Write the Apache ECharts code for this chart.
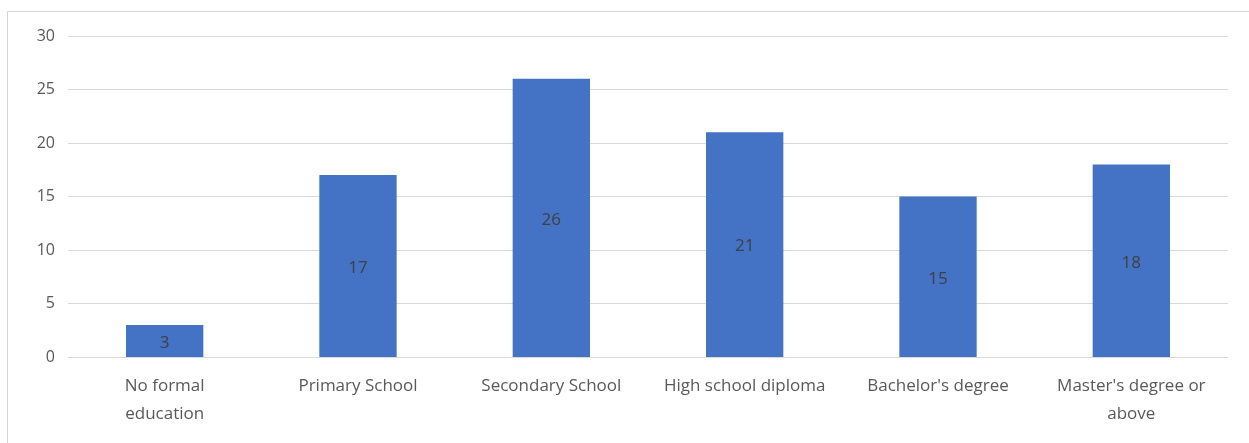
<!DOCTYPE html>
<html>
<head>
<meta charset="utf-8">
<script src="https://cdn.jsdelivr.net/npm/echarts@6/dist/echarts.min.js"></script>
<style>
html,body{margin:0;padding:0;background:#fff;}
#frame{position:absolute;left:7px;top:11px;width:1300px;height:500px;border:1px solid #d4d4d4;box-sizing:border-box;}
#chart{position:absolute;left:0;top:0;width:1249px;height:443px;}
</style>
</head>
<body>
<div id="frame"></div>
<div id="chart"></div>
<script>
const categories = ["No formal\neducation", "Primary School", "Secondary School", "High school diploma", "Bachelor's degree", "Master's degree or\nabove"];
const values = [3, 17, 26, 21, 15, 18];
const yTicks = { min: 0, max: 30, interval: 5 };

const chart = echarts.init(document.getElementById('chart'), null, { renderer: 'canvas' });
const font = "'Open Sans', 'Noto Sans', sans-serif";
chart.setOption({
  animation: false,
  grid: { left: 68, right: 21, top: 36, bottom: 86 },
  xAxis: {
    type: 'category',
    data: categories,
    axisLine: { show: true, lineStyle: { color: '#d9d9d9', width: 1 } },
    axisTick: { show: false },
    axisLabel: { color: '#595959', fontSize: 17, fontFamily: font, margin: 15, lineHeight: 28, interval: 0 }
  },
  yAxis: {
    type: 'value',
    min: yTicks.min, max: yTicks.max, interval: yTicks.interval,
    axisLine: { show: false },
    axisTick: { show: false },
    splitLine: { lineStyle: { color: '#d9d9d9', width: 1 } },
    axisLabel: { color: '#595959', fontSize: 16, fontFamily: font, margin: 13 }
  },
  series: [{
    type: 'bar',
    data: values,
    barWidth: '40%',
    itemStyle: { color: '#4472C4' },
    label: { show: true, position: 'inside', offset: [0, 2], color: '#404040', fontSize: 17, fontFamily: font }
  }]
});
</script>
</body>
</html>
